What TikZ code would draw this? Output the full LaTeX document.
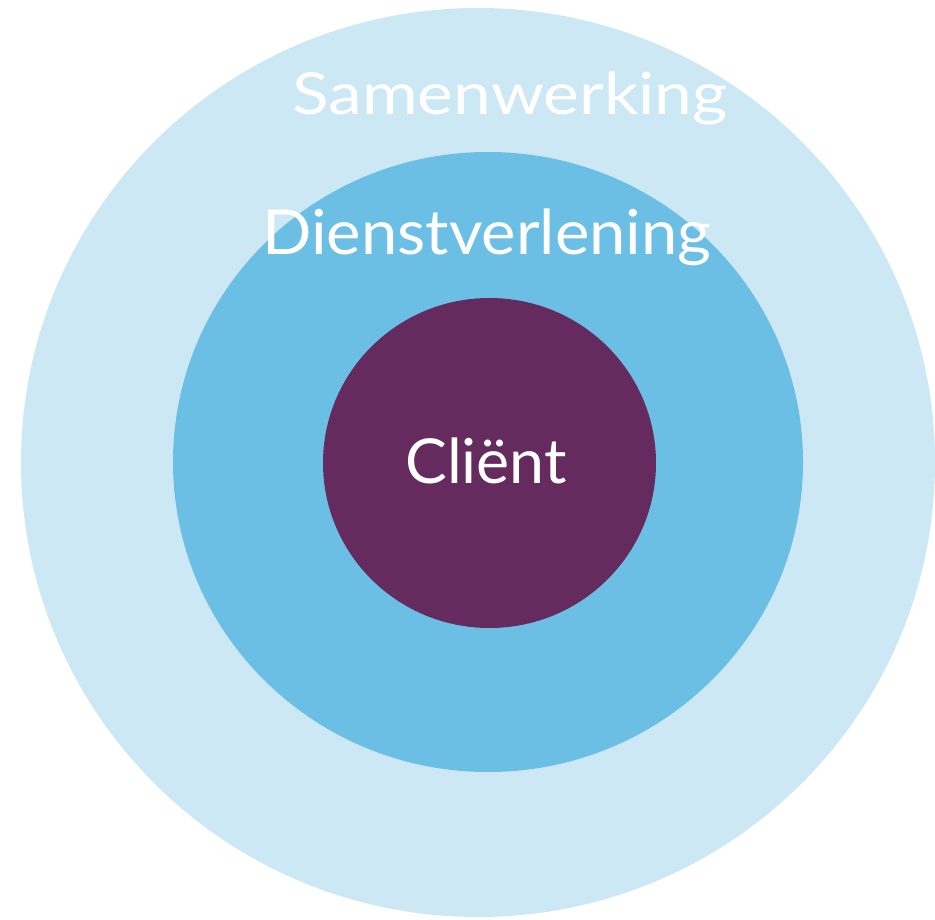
\documentclass[tikz,border=0pt]{standalone}
\usepackage{fontspec}
\setmainfont{Lato}
\definecolor{outerblue}{HTML}{CCE8F4}
\definecolor{midblue}{HTML}{6CBFE4}
\definecolor{clientpurple}{HTML}{652B5E}
\begin{document}
\begin{tikzpicture}[x=1pt,y=-1pt,
  ringlabel/.style={text=white,inner sep=0pt,anchor=base west}]
\useasboundingbox (0,0) rectangle (935,920);
\fill[outerblue] (478,462.5) ellipse [x radius=457,y radius=454.5];
\fill[midblue] (488,462) ellipse [x radius=315,y radius=310];
\fill[clientpurple] (489.5,463) ellipse [x radius=166.5,y radius=165];
\node[ringlabel,xscale=1.167,font=\fontsize{58}{58}\selectfont] (samen) at (292,115) {Samenwerking};
\node[ringlabel,xscale=1.05,font=\fontsize{62}{62}\selectfont] (dienst) at (262,255) {Dienstverlening};
\node[ringlabel,xscale=1.01,font=\fontsize{62}{62}\selectfont] (client) at (405,483) {Cliënt};
\end{tikzpicture}
\end{document}
